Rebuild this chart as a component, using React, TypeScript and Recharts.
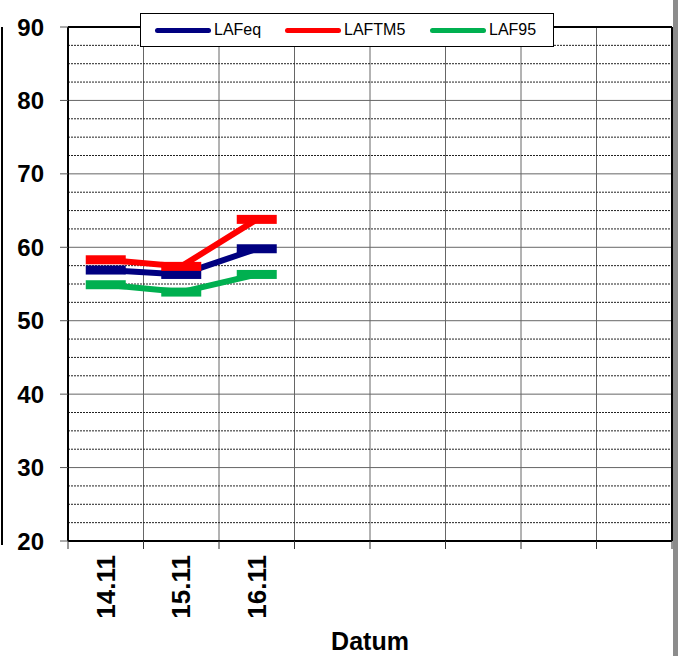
import React from 'react'
import { LineChart, Line, XAxis, YAxis, CartesianGrid, ReferenceLine, Label } from 'recharts'

const categories = ['14.11', '15.11', '16.11', '', '', '', '', '']
const lafeq = [56.9, 56.3, 59.8]
const laftm5 = [58.3, 57.4, 63.8]
const laf95 = [54.9, 53.9, 56.3]
const yTicks = [20, 30, 40, 50, 60, 70, 80, 90]

const SERIES = [
  { key: 'LAFeq', color: '#000080', values: lafeq },
  { key: 'LAFTM5', color: '#ff0000', values: laftm5 },
  { key: 'LAF95', color: '#00b050', values: laf95 },
]

const FONT = 'Arial, "Liberation Sans", sans-serif'

const data = categories.map((c, i) => {
  const row: Record<string, number | string | null> = { x: i + 0.5, label: c }
  SERIES.forEach(s => {
    row[s.key] = i < s.values.length ? s.values[i] : null
  })
  return row
})

const boundTicks = categories.map((_, i) => i).concat(categories.length)
const labelTicks = categories.map((_, i) => i + 0.5)

// dashed minor lines, 3 per major interval
const minorLines: number[] = []
for (let i = 0; i < yTicks.length - 1; i++) {
  const step = (yTicks[i + 1] - yTicks[i]) / 4
  for (let k = 1; k < 4; k++) minorLines.push(yTicks[i] + k * step)
}

const DashMarker = (props: any) => {
  const { cx, cy, stroke } = props
  if (cx == null || cy == null) return null
  return <rect x={cx - 20} y={cy - 4.5} width={40} height={9} fill={stroke} />
}

const CategoryTick = (props: any) => {
  const { x, y, payload } = props
  const idx = Math.floor(payload.value)
  const text = categories[idx] ?? ''
  return (
    <text
      x={x}
      y={y}
      transform={`rotate(-90, ${x}, ${y})`}
      textAnchor="end"
      dominantBaseline="central"
      fontFamily={FONT}
      fontWeight="bold"
      fontSize={26}
      fill="#000"
    >
      {text}
    </text>
  )
}

export default function App() {
  return (
    <div style={{ position: 'absolute', left: 0, top: 0, width: 678, height: 656, background: '#fff', fontFamily: FONT }}>
      <LineChart width={678} height={656} data={data} margin={{ top: 27, right: 6, bottom: 0, left: 0 }}>
        <CartesianGrid xAxisId="bounds" yAxisId="y" stroke="#666" strokeWidth={1} />
        {minorLines.map(v => (
          <ReferenceLine key={v} xAxisId="bounds" yAxisId="y" y={v} stroke="#222" strokeDasharray="2 1" strokeWidth={1} />
        ))}
        <ReferenceLine xAxisId="bounds" yAxisId="y" y={90} stroke="#000" strokeWidth={2} />
        <ReferenceLine xAxisId="bounds" yAxisId="y" x={categories.length} stroke="#000" strokeWidth={2} />
        <XAxis
          xAxisId="bounds"
          dataKey="x"
          type="number"
          domain={[0, categories.length]}
          ticks={boundTicks}
          tickFormatter={() => ''}
          height={10}
          tickSize={8}
          axisLine={{ stroke: '#000', strokeWidth: 2 }}
          tickLine={{ stroke: '#333' }}
        />
        <XAxis
          xAxisId="labels"
          dataKey="x"
          type="number"
          domain={[0, categories.length]}
          ticks={labelTicks}
          height={105}
          tickSize={0}
          tickMargin={4}
          axisLine={false}
          tickLine={false}
          tick={<CategoryTick />}
        >
          <Label value="Datum" position="insideBottom" offset={6} style={{ fontFamily: FONT, fontWeight: 'bold', fontSize: 25, fill: '#000' }} />
        </XAxis>
        <YAxis
          yAxisId="y"
          type="number"
          domain={[20, 90]}
          ticks={yTicks}
          width={68}
          tickSize={8}
          tickMargin={16}
          axisLine={{ stroke: '#000', strokeWidth: 2 }}
          tickLine={{ stroke: '#555' }}
          tick={{ fontFamily: FONT, fontWeight: 'bold', fontSize: 24, fill: '#000' }}
        />
        {SERIES.map(s => (
          <Line
            key={s.key}
            xAxisId="bounds"
            yAxisId="y"
            dataKey={s.key}
            stroke={s.color}
            strokeWidth={6}
            dot={<DashMarker />}
            activeDot={false}
            isAnimationActive={false}
            connectNulls={false}
          />
        ))}
      </LineChart>
      <div style={{ position: 'absolute', left: 1, top: 27, width: 2, height: 518, background: '#000' }} />
      <div style={{ position: 'absolute', left: 673, top: 0, width: 5, height: 656, background: '#8c8c8c' }} />
      <div
        style={{
          position: 'absolute',
          left: 140,
          top: 13,
          width: 414,
          height: 34,
          border: '1px solid #000',
          background: '#fff',
          boxSizing: 'border-box',
        }}
      >
        {SERIES.map((s, i) => (
          <div
            key={s.key}
            style={{ position: 'absolute', left: [14, 144, 289][i], top: 0, height: 32, display: 'flex', alignItems: 'center' }}
          >
            <div style={{ width: 56, height: 5, borderRadius: 3, background: s.color }} />
            <span style={{ marginLeft: 3, fontSize: 16, color: '#000' }}>{s.key}</span>
          </div>
        ))}
      </div>
    </div>
  )
}
